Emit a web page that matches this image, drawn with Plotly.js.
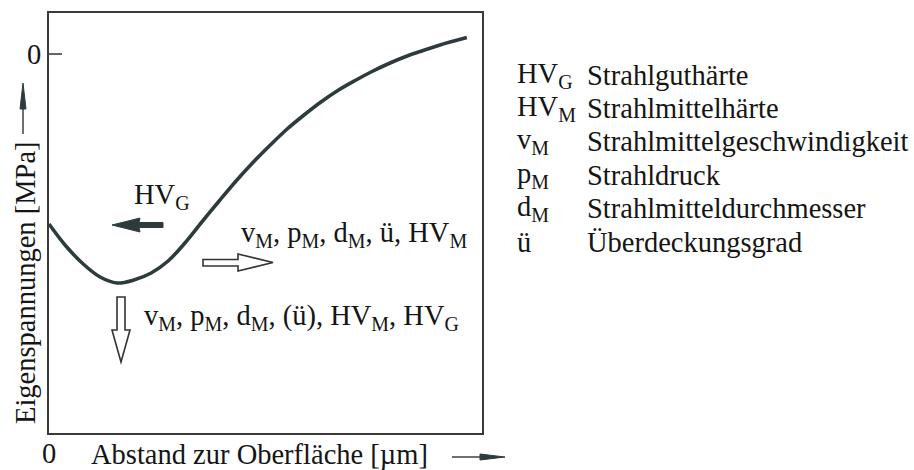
<!DOCTYPE html>
<html>
<head>
<meta charset="utf-8">
<script src="https://cdn.plot.ly/plotly-3.0.1.min.js"></script>
<style>html,body{margin:0;padding:0;background:#fff;}#chart{width:914px;height:470px;}</style>
</head>
<body>
<div id="chart"></div>
<script>
// ---- data ----
const depth  = [0, 3.9, 7.9, 11.8, 15.7, 19.6, 23.6, 27.5, 31.4, 35.3, 39.3, 43.2, 47.1, 51, 55, 58.9, 62.8, 66.7, 70.7, 74.6, 78.5, 82.4, 86.4, 90.3, 93.3, 96.5];
const stress = [-170, -192, -210, -223, -229, -226, -219, -207, -189, -168, -147, -127, -108.5, -91.5, -75, -61, -48, -36.5, -26.5, -17.5, -9.5, -2.5, 3.5, 9, 12.7, 16.5];
const yTickVals = [0];
const yTickText = ['0'];
const xZeroLabel = '0';
const legendSymbols = ['HV<sub>G</sub>', 'HV<sub>M</sub>', 'v<sub>M</sub>', 'p<sub>M</sub>', 'd<sub>M</sub>', 'ü'];
const legendTexts = ['Strahlguthärte', 'Strahlmittelhärte', 'Strahlmittelgeschwindigkeit', 'Strahldruck', 'Strahlmitteldurchmesser', 'Überdeckungsgrad'];
const labelLeft = 'HV<sub>G</sub>';
const labelRight = 'v<sub>M</sub>, p<sub>M</sub>, d<sub>M</sub>, ü, HV<sub>M</sub>';
const labelDown = 'v<sub>M</sub>, p<sub>M</sub>, d<sub>M</sub>, (ü), HV<sub>M</sub>, HV<sub>G</sub>';
const xTitle = 'Abstand zur Oberfläche [µm]';
const yTitle = 'Eigenspannungen [MPa]';

// ---- layout helpers (pixel -> paper) ----
const W = 914, H = 470;
const L = 49, R = 482, T = 13, B = 433;
const px = x => (x - L) / (R - L);
const py = y => (B - y) / (B - T);
const pt = (x, y) => px(x) + ',' + py(y);
const poly = pts => 'M' + pts.map(p => pt(p[0], p[1])).join(' L') + ' Z';

const FONT = 'Liberation Serif';
const FS = 28.5;
const INK = '#2e3b3c';
const TXT = '#151515';

const shapes = [
  // filled left arrow (HV_G)
  {type: 'path', xref: 'paper', yref: 'paper', fillcolor: INK, line: {color: INK, width: 1},
   path: poly([[112, 225], [140, 218], [139, 222.5], [163, 222.5], [163, 227.5], [139, 227.5], [140, 232]])},
  // hollow right arrow
  {type: 'path', xref: 'paper', yref: 'paper', fillcolor: 'rgba(0,0,0,0)', line: {color: '#333', width: 1.6},
   path: poly([[203, 259.5], [238, 259.5], [238, 254], [273, 262.5], [238, 271], [238, 266], [203, 266]])},
  // hollow down arrow
  {type: 'path', xref: 'paper', yref: 'paper', fillcolor: 'rgba(0,0,0,0)', line: {color: '#333', width: 1.6},
   path: poly([[117, 297], [125, 297], [125, 330], [130, 330], [121, 362], [112, 330], [117, 330]])},
  // y-axis title arrow
  {type: 'line', xref: 'paper', yref: 'paper', x0: px(23), x1: px(23), y0: py(134), y1: py(105), line: {color: '#222', width: 1.3}},
  {type: 'path', xref: 'paper', yref: 'paper', fillcolor: INK, line: {color: INK, width: 1},
   path: poly([[23, 83], [26, 109], [20, 109]])},
  // x-axis title arrow
  {type: 'line', xref: 'paper', yref: 'paper', x0: px(452), x1: px(482), y0: py(457), y1: py(457), line: {color: '#222', width: 1.3}},
  {type: 'path', xref: 'paper', yref: 'paper', fillcolor: INK, line: {color: INK, width: 1},
   path: poly([[505, 457], [480, 454], [480, 460]])}
];

const ann = (text, x, y, xa, extra) => Object.assign({
  text: text, xref: 'paper', yref: 'paper', x: px(x), y: py(y), xanchor: xa, yanchor: 'middle',
  showarrow: false, borderpad: 0, font: {family: FONT, size: FS, color: TXT}
}, extra || {});

const annotations = [
  ann(labelLeft, 133, 196, 'left'),
  ann(labelRight, 240, 234, 'left'),
  ann(labelDown, 143, 317, 'left'),
  ann(xTitle, 90, 454, 'left'),
  ann(xZeroLabel, 49, 453, 'center'),
  ann(yTitle, 25, 283, 'center', {textangle: -90})
];
const rowY0 = 75, rowDY = 33.4;
legendSymbols.forEach((s, i) => {
  annotations.push(ann(s, 516, rowY0 + i * rowDY, 'left'));
  annotations.push(ann(legendTexts[i], 586, rowY0 + i * rowDY, 'left'));
});

const trace = {
  x: depth, y: stress, type: 'scatter', mode: 'lines',
  line: {color: INK, width: 3.6, shape: 'spline', smoothing: 1.0},
  hoverinfo: 'skip'
};

const layout = {
  width: W, height: H,
  margin: {l: L, r: W - R, t: T, b: H - B, pad: 0},
  paper_bgcolor: '#fff', plot_bgcolor: '#fff',
  showlegend: false,
  font: {family: FONT, size: FS, color: TXT},
  xaxis: {range: [0, 100], showgrid: false, zeroline: false, showline: true, mirror: true,
          linecolor: '#3a3a3a', linewidth: 2, showticklabels: false, ticks: '', fixedrange: true},
  yaxis: {range: [-379, 41], showgrid: false, zeroline: false, showline: true, mirror: true,
          linecolor: '#3a3a3a', linewidth: 2, tickvals: yTickVals, ticktext: yTickText,
          ticks: 'inside', ticklen: 13, tickwidth: 1.5, tickcolor: '#666',
          tickfont: {family: FONT, size: FS, color: TXT}, fixedrange: true},
  shapes: shapes,
  annotations: annotations
};

Plotly.newPlot('chart', [trace], layout, {staticPlot: true, displayModeBar: false});
</script>
</body>
</html>
